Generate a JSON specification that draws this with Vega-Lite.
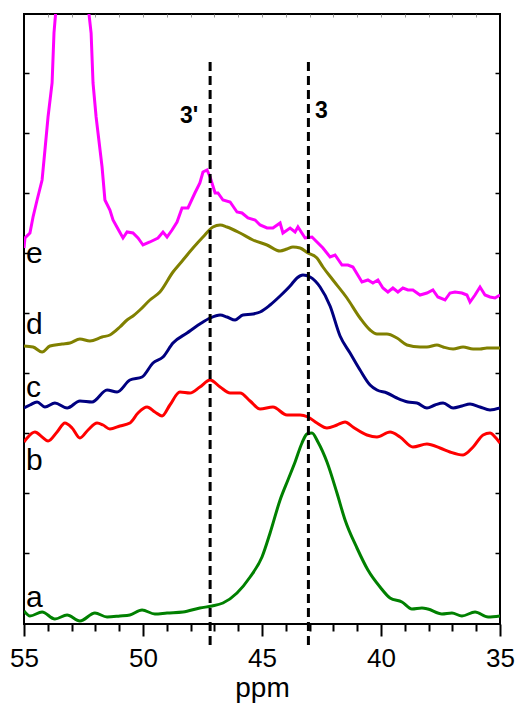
{
 "$schema": "https://vega.github.io/schema/vega-lite/v6.json",
 "width": 476, "height": 610,
 "autosize": {"type": "none"},
 "padding": {"left": 24, "top": 14, "right": 15, "bottom": 82},
 "config": {"font": "Liberation Sans", "view": {"stroke": "black", "strokeWidth": 2}, "axis": {"grid": false, "domain": false}},
 "datasets": {
  "smooth": [
   {"spectrum":"a","ppm":55.0,"intensity":13},{"spectrum":"a","ppm":54.75,"intensity":8},{"spectrum":"a","ppm":54.24,"intensity":12},{"spectrum":"a","ppm":53.7,"intensity":5},{"spectrum":"a","ppm":53.19,"intensity":9},{"spectrum":"a","ppm":52.65,"intensity":3},{"spectrum":"a","ppm":52.02,"intensity":11},{"spectrum":"a","ppm":51.51,"intensity":7},{"spectrum":"a","ppm":50.97,"intensity":8},{"spectrum":"a","ppm":50.55,"intensity":9},{"spectrum":"a","ppm":50.04,"intensity":14},{"spectrum":"a","ppm":49.5,"intensity":10},{"spectrum":"a","ppm":48.99,"intensity":11},{"spectrum":"a","ppm":48.32,"intensity":12},{"spectrum":"a","ppm":47.61,"intensity":16},{"spectrum":"a","ppm":47.1,"intensity":18},{"spectrum":"a","ppm":46.64,"intensity":21},{"spectrum":"a","ppm":46.05,"intensity":31},{"spectrum":"a","ppm":45.5,"intensity":47},{"spectrum":"a","ppm":45.0,"intensity":67},{"spectrum":"a","ppm":44.66,"intensity":91},{"spectrum":"a","ppm":44.24,"intensity":124},{"spectrum":"a","ppm":43.91,"intensity":144},{"spectrum":"a","ppm":43.61,"intensity":162},{"spectrum":"a","ppm":43.32,"intensity":181},{"spectrum":"a","ppm":43.11,"intensity":190},{"spectrum":"a","ppm":42.9,"intensity":191},{"spectrum":"a","ppm":42.65,"intensity":182},{"spectrum":"a","ppm":42.27,"intensity":162},{"spectrum":"a","ppm":41.85,"intensity":131},{"spectrum":"a","ppm":41.51,"intensity":104},{"spectrum":"a","ppm":41.01,"intensity":76},{"spectrum":"a","ppm":40.55,"intensity":54},{"spectrum":"a","ppm":40.04,"intensity":37},{"spectrum":"a","ppm":39.62,"intensity":26},{"spectrum":"a","ppm":39.12,"intensity":22},{"spectrum":"a","ppm":38.7,"intensity":15},{"spectrum":"a","ppm":38.28,"intensity":16},{"spectrum":"a","ppm":38.03,"intensity":15},{"spectrum":"a","ppm":37.44,"intensity":10},{"spectrum":"a","ppm":37.02,"intensity":11},{"spectrum":"a","ppm":36.6,"intensity":8},{"spectrum":"a","ppm":36.05,"intensity":12},{"spectrum":"a","ppm":35.5,"intensity":7},{"spectrum":"a","ppm":35.0,"intensity":8},
   {"spectrum":"b","ppm":55.0,"intensity":182},{"spectrum":"b","ppm":54.87,"intensity":186},{"spectrum":"b","ppm":54.54,"intensity":192},{"spectrum":"b","ppm":54.24,"intensity":187},{"spectrum":"b","ppm":53.99,"intensity":183},{"spectrum":"b","ppm":53.61,"intensity":192},{"spectrum":"b","ppm":53.28,"intensity":201},{"spectrum":"b","ppm":52.98,"intensity":196},{"spectrum":"b","ppm":52.65,"intensity":186},{"spectrum":"b","ppm":52.31,"intensity":194},{"spectrum":"b","ppm":51.93,"intensity":201},{"spectrum":"b","ppm":51.68,"intensity":199},{"spectrum":"b","ppm":51.39,"intensity":195},{"spectrum":"b","ppm":50.97,"intensity":198},{"spectrum":"b","ppm":50.55,"intensity":201},{"spectrum":"b","ppm":50.21,"intensity":211},{"spectrum":"b","ppm":49.83,"intensity":217},{"spectrum":"b","ppm":49.5,"intensity":212},{"spectrum":"b","ppm":49.2,"intensity":208},{"spectrum":"b","ppm":48.87,"intensity":219},{"spectrum":"b","ppm":48.45,"intensity":232},{"spectrum":"b","ppm":48.03,"intensity":231},{"spectrum":"b","ppm":47.61,"intensity":237},{"spectrum":"b","ppm":47.18,"intensity":244},{"spectrum":"b","ppm":46.76,"intensity":237},{"spectrum":"b","ppm":46.34,"intensity":231},{"spectrum":"b","ppm":45.92,"intensity":231},{"spectrum":"b","ppm":45.5,"intensity":223},{"spectrum":"b","ppm":45.08,"intensity":215},{"spectrum":"b","ppm":44.54,"intensity":217},{"spectrum":"b","ppm":43.95,"intensity":209},{"spectrum":"b","ppm":43.4,"intensity":209},{"spectrum":"b","ppm":43.07,"intensity":207},{"spectrum":"b","ppm":42.69,"intensity":201},{"spectrum":"b","ppm":42.27,"intensity":196},{"spectrum":"b","ppm":41.85,"intensity":199},{"spectrum":"b","ppm":41.51,"intensity":202},{"spectrum":"b","ppm":41.18,"intensity":197},{"spectrum":"b","ppm":40.59,"intensity":189},{"spectrum":"b","ppm":40.17,"intensity":187},{"spectrum":"b","ppm":39.62,"intensity":192},{"spectrum":"b","ppm":39.2,"intensity":187},{"spectrum":"b","ppm":38.66,"intensity":177},{"spectrum":"b","ppm":38.07,"intensity":180},{"spectrum":"b","ppm":37.52,"intensity":176},{"spectrum":"b","ppm":37.1,"intensity":172},{"spectrum":"b","ppm":36.55,"intensity":169},{"spectrum":"b","ppm":36.13,"intensity":177},{"spectrum":"b","ppm":35.71,"intensity":189},{"spectrum":"b","ppm":35.42,"intensity":191},{"spectrum":"b","ppm":35.21,"intensity":187},{"spectrum":"b","ppm":35.0,"intensity":181},
   {"spectrum":"c","ppm":55.0,"intensity":216},{"spectrum":"c","ppm":54.75,"intensity":219},{"spectrum":"c","ppm":54.45,"intensity":222},{"spectrum":"c","ppm":54.12,"intensity":217},{"spectrum":"c","ppm":53.7,"intensity":221},{"spectrum":"c","ppm":53.19,"intensity":216},{"spectrum":"c","ppm":52.65,"intensity":223},{"spectrum":"c","ppm":52.14,"intensity":222},{"spectrum":"c","ppm":51.51,"intensity":234},{"spectrum":"c","ppm":51.09,"intensity":232},{"spectrum":"c","ppm":50.55,"intensity":244},{"spectrum":"c","ppm":50.04,"intensity":247},{"spectrum":"c","ppm":49.58,"intensity":261},{"spectrum":"c","ppm":49.16,"intensity":267},{"spectrum":"c","ppm":48.74,"intensity":281},{"spectrum":"c","ppm":48.15,"intensity":291},{"spectrum":"c","ppm":47.61,"intensity":300},{"spectrum":"c","ppm":47.18,"intensity":306},{"spectrum":"c","ppm":46.76,"intensity":309},{"spectrum":"c","ppm":46.47,"intensity":307},{"spectrum":"c","ppm":46.13,"intensity":304},{"spectrum":"c","ppm":45.8,"intensity":309},{"spectrum":"c","ppm":45.38,"intensity":310},{"spectrum":"c","ppm":45.08,"intensity":312},{"spectrum":"c","ppm":44.66,"intensity":319},{"spectrum":"c","ppm":44.24,"intensity":328},{"spectrum":"c","ppm":43.82,"intensity":338},{"spectrum":"c","ppm":43.53,"intensity":346},{"spectrum":"c","ppm":43.28,"intensity":349},{"spectrum":"c","ppm":42.98,"intensity":347},{"spectrum":"c","ppm":42.56,"intensity":337},{"spectrum":"c","ppm":42.14,"intensity":318},{"spectrum":"c","ppm":41.72,"intensity":288},{"spectrum":"c","ppm":41.3,"intensity":271},{"spectrum":"c","ppm":40.88,"intensity":254},{"spectrum":"c","ppm":40.46,"intensity":239},{"spectrum":"c","ppm":40.17,"intensity":234},{"spectrum":"c","ppm":39.75,"intensity":231},{"spectrum":"c","ppm":39.33,"intensity":226},{"spectrum":"c","ppm":38.87,"intensity":222},{"spectrum":"c","ppm":38.49,"intensity":221},{"spectrum":"c","ppm":38.07,"intensity":216},{"spectrum":"c","ppm":37.73,"intensity":219},{"spectrum":"c","ppm":37.39,"intensity":221},{"spectrum":"c","ppm":36.97,"intensity":216},{"spectrum":"c","ppm":36.6,"intensity":218},{"spectrum":"c","ppm":36.26,"intensity":220},{"spectrum":"c","ppm":35.84,"intensity":217},{"spectrum":"c","ppm":35.42,"intensity":214},{"spectrum":"c","ppm":35.0,"intensity":216},
   {"spectrum":"d","ppm":55.0,"intensity":278},{"spectrum":"d","ppm":54.62,"intensity":277},{"spectrum":"d","ppm":54.24,"intensity":272},{"spectrum":"d","ppm":53.91,"intensity":278},{"spectrum":"d","ppm":53.4,"intensity":280},{"spectrum":"d","ppm":53.07,"intensity":281},{"spectrum":"d","ppm":52.65,"intensity":285},{"spectrum":"d","ppm":52.23,"intensity":283},{"spectrum":"d","ppm":51.72,"intensity":287},{"spectrum":"d","ppm":51.39,"intensity":289},{"spectrum":"d","ppm":50.97,"intensity":297},{"spectrum":"d","ppm":50.67,"intensity":304},{"spectrum":"d","ppm":50.42,"intensity":308},{"spectrum":"d","ppm":50.13,"intensity":314},{"spectrum":"d","ppm":49.71,"intensity":324},{"spectrum":"d","ppm":49.29,"intensity":332},{"spectrum":"d","ppm":48.74,"intensity":352},{"spectrum":"d","ppm":48.32,"intensity":364},{"spectrum":"d","ppm":47.9,"intensity":376},{"spectrum":"d","ppm":47.48,"intensity":387},{"spectrum":"d","ppm":47.06,"intensity":397},{"spectrum":"d","ppm":46.76,"intensity":399},{"spectrum":"d","ppm":46.47,"intensity":397},{"spectrum":"d","ppm":45.92,"intensity":391},{"spectrum":"d","ppm":45.38,"intensity":384},{"spectrum":"d","ppm":44.79,"intensity":379},{"spectrum":"d","ppm":44.24,"intensity":373},{"spectrum":"d","ppm":43.95,"intensity":375},{"spectrum":"d","ppm":43.7,"intensity":377},{"spectrum":"d","ppm":43.4,"intensity":376},{"spectrum":"d","ppm":43.07,"intensity":371},{"spectrum":"d","ppm":42.69,"intensity":366},{"spectrum":"d","ppm":42.44,"intensity":357},{"spectrum":"d","ppm":42.02,"intensity":344},{"spectrum":"d","ppm":41.43,"intensity":326},{"spectrum":"d","ppm":40.88,"intensity":306},{"spectrum":"d","ppm":40.46,"intensity":294},{"spectrum":"d","ppm":40.17,"intensity":290},{"spectrum":"d","ppm":39.75,"intensity":290},{"spectrum":"d","ppm":39.33,"intensity":286},{"spectrum":"d","ppm":38.91,"intensity":279},{"spectrum":"d","ppm":38.36,"intensity":277},{"spectrum":"d","ppm":38.07,"intensity":277},{"spectrum":"d","ppm":37.65,"intensity":279},{"spectrum":"d","ppm":37.39,"intensity":277},{"spectrum":"d","ppm":36.97,"intensity":275},{"spectrum":"d","ppm":36.55,"intensity":277},{"spectrum":"d","ppm":36.13,"intensity":275},{"spectrum":"d","ppm":35.84,"intensity":275},{"spectrum":"d","ppm":35.55,"intensity":276},{"spectrum":"d","ppm":35.0,"intensity":276}
  ],
  "noisy": [
   {"spectrum":"e","ppm":55.0,"intensity":376},{"spectrum":"e","ppm":54.96,"intensity":386},{"spectrum":"e","ppm":54.75,"intensity":391},{"spectrum":"e","ppm":54.62,"intensity":407},{"spectrum":"e","ppm":54.45,"intensity":424},{"spectrum":"e","ppm":54.24,"intensity":444},{"spectrum":"e","ppm":54.12,"intensity":474},{"spectrum":"e","ppm":53.99,"intensity":507},{"spectrum":"e","ppm":53.82,"intensity":541},{"spectrum":"e","ppm":53.74,"intensity":591},{"spectrum":"e","ppm":53.66,"intensity":614},{"spectrum":"e","ppm":53.57,"intensity":674},{"spectrum":"e","ppm":52.98,"intensity":1124},{"spectrum":"e","ppm":52.35,"intensity":674},{"spectrum":"e","ppm":52.27,"intensity":610},{"spectrum":"e","ppm":52.18,"intensity":591},{"spectrum":"e","ppm":52.1,"intensity":541},{"spectrum":"e","ppm":51.97,"intensity":507},{"spectrum":"e","ppm":51.89,"intensity":491},{"spectrum":"e","ppm":51.72,"intensity":457},{"spectrum":"e","ppm":51.6,"intensity":424},{"spectrum":"e","ppm":51.39,"intensity":414},{"spectrum":"e","ppm":51.26,"intensity":404},{"spectrum":"e","ppm":51.05,"intensity":395},{"spectrum":"e","ppm":50.84,"intensity":386},{"spectrum":"e","ppm":50.67,"intensity":392},{"spectrum":"e","ppm":50.42,"intensity":391},{"spectrum":"e","ppm":50.21,"intensity":386},{"spectrum":"e","ppm":50.0,"intensity":379},{"spectrum":"e","ppm":49.71,"intensity":382},{"spectrum":"e","ppm":49.37,"intensity":386},{"spectrum":"e","ppm":49.16,"intensity":392},{"spectrum":"e","ppm":48.99,"intensity":387},{"spectrum":"e","ppm":48.78,"intensity":394},{"spectrum":"e","ppm":48.57,"intensity":402},{"spectrum":"e","ppm":48.36,"intensity":416},{"spectrum":"e","ppm":48.11,"intensity":416},{"spectrum":"e","ppm":47.82,"intensity":431},{"spectrum":"e","ppm":47.61,"intensity":441},{"spectrum":"e","ppm":47.48,"intensity":452},{"spectrum":"e","ppm":47.31,"intensity":454},{"spectrum":"e","ppm":47.18,"intensity":447},{"spectrum":"e","ppm":46.97,"intensity":431},{"spectrum":"e","ppm":46.85,"intensity":431},{"spectrum":"e","ppm":46.64,"intensity":424},{"spectrum":"e","ppm":46.34,"intensity":422},{"spectrum":"e","ppm":46.05,"intensity":412},{"spectrum":"e","ppm":45.84,"intensity":411},{"spectrum":"e","ppm":45.59,"intensity":406},{"spectrum":"e","ppm":45.29,"intensity":404},{"spectrum":"e","ppm":45.08,"intensity":399},{"spectrum":"e","ppm":44.79,"intensity":396},{"spectrum":"e","ppm":44.54,"intensity":396},{"spectrum":"e","ppm":44.24,"intensity":401},{"spectrum":"e","ppm":44.12,"intensity":391},{"spectrum":"e","ppm":43.82,"intensity":396},{"spectrum":"e","ppm":43.61,"intensity":392},{"spectrum":"e","ppm":43.49,"intensity":397},{"spectrum":"e","ppm":43.19,"intensity":386},{"spectrum":"e","ppm":42.9,"intensity":387},{"spectrum":"e","ppm":42.69,"intensity":382},{"spectrum":"e","ppm":42.44,"intensity":376},{"spectrum":"e","ppm":42.14,"intensity":367},{"spectrum":"e","ppm":41.93,"intensity":369},{"spectrum":"e","ppm":41.64,"intensity":359},{"spectrum":"e","ppm":41.39,"intensity":359},{"spectrum":"e","ppm":41.18,"intensity":357},{"spectrum":"e","ppm":40.8,"intensity":342},{"spectrum":"e","ppm":40.55,"intensity":344},{"spectrum":"e","ppm":40.34,"intensity":341},{"spectrum":"e","ppm":40.13,"intensity":344},{"spectrum":"e","ppm":39.92,"intensity":336},{"spectrum":"e","ppm":39.71,"intensity":332},{"spectrum":"e","ppm":39.5,"intensity":336},{"spectrum":"e","ppm":39.29,"intensity":332},{"spectrum":"e","ppm":39.08,"intensity":336},{"spectrum":"e","ppm":38.87,"intensity":334},{"spectrum":"e","ppm":38.66,"intensity":334},{"spectrum":"e","ppm":38.36,"intensity":329},{"spectrum":"e","ppm":38.07,"intensity":331},{"spectrum":"e","ppm":37.82,"intensity":334},{"spectrum":"e","ppm":37.61,"intensity":327},{"spectrum":"e","ppm":37.31,"intensity":324},{"spectrum":"e","ppm":37.1,"intensity":331},{"spectrum":"e","ppm":36.89,"intensity":332},{"spectrum":"e","ppm":36.6,"intensity":331},{"spectrum":"e","ppm":36.39,"intensity":329},{"spectrum":"e","ppm":36.26,"intensity":322},{"spectrum":"e","ppm":36.05,"intensity":329},{"spectrum":"e","ppm":35.84,"intensity":337},{"spectrum":"e","ppm":35.63,"intensity":329},{"spectrum":"e","ppm":35.42,"intensity":327},{"spectrum":"e","ppm":35.21,"intensity":326},{"spectrum":"e","ppm":35.0,"intensity":329}
  ]
 },
 "layer": [
  {
   "data": {"name": "smooth"},
   "mark": {"type": "line", "interpolate": "monotone", "strokeWidth": 3, "clip": true},
   "encoding": {
    "x": {"field": "ppm", "type": "quantitative",
          "scale": {"domain": [35, 55], "reverse": true, "nice": false, "zero": false},
          "axis": {"orient": "bottom", "values": [35,36,37,38,39,40,41,42,43,44,45,46,47,48,49,50,51,52,53,54,55],
                   "labelExpr": "datum.value % 5 === 0 ? datum.label : ''", "format": "d",
                   "tickSize": {"condition": {"test": "datum.value % 5 === 0", "value": 12}, "value": 7},
                   "tickWidth": 2, "tickColor": "black", "labelFontSize": 26, "labelColor": "black",
                   "labelPadding": 9, "labelFlush": false, "labelOverlap": false,
                   "title": "ppm", "titleFontSize": 28, "titleFontWeight": "normal", "titleColor": "black", "titlePadding": 3}},
    "y": {"field": "intensity", "type": "quantitative",
          "scale": {"domain": [0, 610], "nice": false, "zero": false},
          "axis": {"orient": "left", "values": [71,131,191,251,311,371,431,491,551], "labels": false,
                   "tickSize": -5, "tickWidth": 1.5, "tickColor": "black", "title": null}},
    "color": {"field": "spectrum", "type": "nominal",
              "scale": {"domain": ["a","b","c","d","e"], "range": ["#008000","#FF0000","#000080","#808000","#FF00FF"]},
              "legend": null}
   }
  },
  {
   "data": {"name": "noisy"},
   "mark": {"type": "line", "interpolate": "linear", "strokeWidth": 3, "clip": true},
   "encoding": {
    "x": {"field": "ppm", "type": "quantitative",
          "axis": {"orient": "top", "values": [36,37,38,39,40,41,42,43,44,45,46,47,48,49,50,51,52,53,54], "labels": false,
                   "tickSize": -3, "tickWidth": 1, "tickColor": "#999999", "title": null}},
    "y": {"field": "intensity", "type": "quantitative",
          "axis": {"orient": "right", "values": [71,131,191,251,311,371,431,491,551], "labels": false,
                   "tickSize": -5, "tickWidth": 1.5, "tickColor": "black", "title": null}},
    "color": {"field": "spectrum", "type": "nominal", "legend": null}
   }
  },
  {
   "data": {"values": [{"line": "3'", "ppm": 47.18}, {"line": "3", "ppm": 43.05}]},
   "mark": {"type": "rule", "strokeDash": [9, 5], "strokeWidth": 3, "color": "black", "clip": false},
   "encoding": {
    "x": {"field": "ppm", "type": "quantitative", "axis": null},
    "y": {"datum": 562, "type": "quantitative", "axis": null},
    "y2": {"datum": -26}
   }
  },
  {
   "data": {"values": [
     {"label": "a", "ppm": 54.92, "intensity": 17},
     {"label": "b", "ppm": 54.92, "intensity": 154},
     {"label": "c", "ppm": 54.92, "intensity": 227},
     {"label": "d", "ppm": 54.92, "intensity": 290},
     {"label": "e", "ppm": 54.92, "intensity": 361}
   ]},
   "mark": {"type": "text", "align": "left", "baseline": "alphabetic", "fontSize": 30, "color": "black"},
   "encoding": {
    "x": {"field": "ppm", "type": "quantitative", "axis": null},
    "y": {"field": "intensity", "type": "quantitative", "axis": null},
    "text": {"field": "label"}
   }
  },
  {
   "data": {"values": [
     {"label": "3'", "ppm": 48.45, "intensity": 501},
     {"label": "3", "ppm": 42.77, "intensity": 506}
   ]},
   "mark": {"type": "text", "align": "left", "baseline": "alphabetic", "fontSize": 23, "fontWeight": "bold", "color": "black"},
   "encoding": {
    "x": {"field": "ppm", "type": "quantitative", "axis": null},
    "y": {"field": "intensity", "type": "quantitative", "axis": null},
    "text": {"field": "label"}
   }
  }
 ],
 "resolve": {"axis": {"x": "independent", "y": "independent"}}
}
